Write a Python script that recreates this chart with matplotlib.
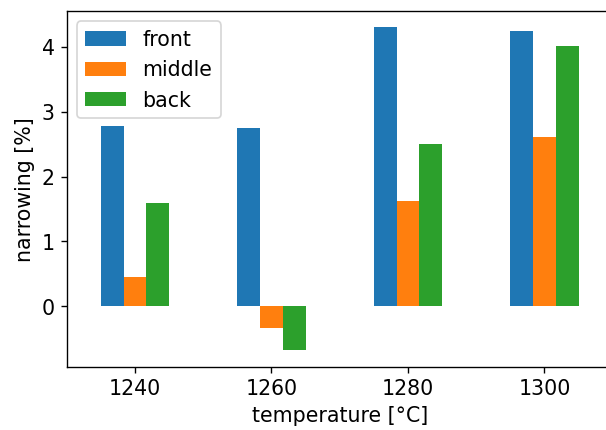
import matplotlib
matplotlib.use("Agg")
import matplotlib.pyplot as plt
import numpy as np

# narrowing per position, one value per furnace temperature
temperature = [1240, 1260, 1280, 1300]
front = [2.78, 2.75, 4.30, 4.24]
middle = [0.46, -0.34, 1.62, 2.61]
back = [1.59, -0.68, 2.50, 4.02]

series = {"front": front, "middle": middle, "back": back}

plt.rcParams['font.size'] = 12

fig = plt.figure(figsize=(4.93, 3.5), dpi=123)
ax = fig.add_axes([0.110, 0.1472, 0.9004, 0.8256])

width = 10 / 3
x = np.array(temperature, dtype=float)
for i, (name, vals) in enumerate(series.items()):
    ax.bar(x + (i - 1) * width, vals, width=width, label=name)

ax.set_xlim(1230, 1310)
ax.set_xticks(temperature)
ax.set_xlabel("temperature [°C]")
ax.set_ylabel("narrowing [%]")
ax.legend(loc="upper left")

fig.savefig("out.png", dpi=123)
plt.close(fig)
